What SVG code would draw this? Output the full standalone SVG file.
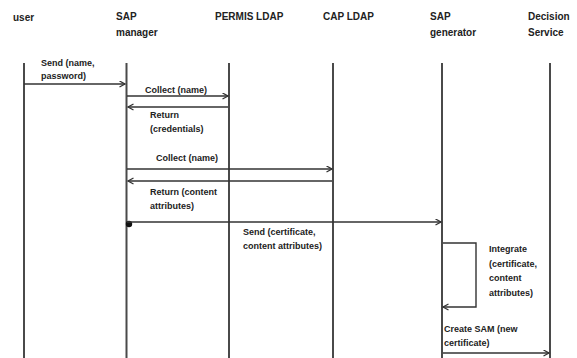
<svg xmlns="http://www.w3.org/2000/svg" width="577" height="358" viewBox="0 0 577 358">
<style>
text{font-family:"Liberation Sans",Arial,sans-serif;font-weight:bold;fill:#222}
.h{font-size:10px}
.m{font-size:9px}
.life{stroke:#4a4a4a;stroke-width:2;fill:none}
.msg{stroke:#333;stroke-width:1.4;fill:none;marker-end:url(#arr)}
</style>
<defs>
<marker id="arr" markerWidth="8" markerHeight="8" refX="6" refY="3.5" orient="auto" markerUnits="userSpaceOnUse">
<path d="M0.5,0.5 L6,3.5 L0.5,6.5" fill="none" stroke="#333" stroke-width="1.3"/>
</marker>
</defs>
<rect width="577" height="358" fill="#fff"/>
<g id="user"><text class="h" x="13" y="21">user</text><line class="life" x1="24" y1="63" x2="24" y2="358"/></g>
<g id="sap-manager"><text class="h" x="116" y="20">SAP</text><text class="h" x="116" y="36">manager</text><line class="life" x1="126.5" y1="63" x2="126.5" y2="358"/></g>
<g id="permis-ldap"><text class="h" x="215" y="20">PERMIS LDAP</text><line class="life" x1="229" y1="63" x2="229" y2="358"/></g>
<g id="cap-ldap"><text class="h" x="323" y="20">CAP LDAP</text><line class="life" x1="333" y1="63" x2="333" y2="358"/></g>
<g id="sap-generator"><text class="h" x="430" y="20">SAP</text><text class="h" x="430" y="36">generator</text><line class="life" x1="442" y1="63" x2="442" y2="358"/></g>
<g id="decision-service"><text class="h" x="528" y="20">Decision</text><text class="h" x="528" y="36">Service</text><line class="life" x1="550" y1="63" x2="550" y2="358"/></g>
<g id="connectors">
<line class="msg" x1="24" y1="84" x2="125" y2="84"/>
<line class="msg" x1="127" y1="96" x2="228" y2="96"/>
<line class="msg" x1="228" y1="107" x2="128" y2="107"/>
<line class="msg" x1="127" y1="169" x2="332" y2="169"/>
<line class="msg" x1="332" y1="181" x2="128" y2="181"/>
<circle cx="129" cy="224" r="3.2" fill="#111"/>
<line class="msg" x1="127" y1="222" x2="441" y2="222" stroke="#222" stroke-width="1.8"/>
<polyline class="msg" points="443,243 476,243 476,307 443,307"/>
<line class="msg" x1="443" y1="353" x2="549" y2="353"/>
</g>
<g id="labels">
<text class="m" x="41" y="66">Send (name,</text>
<text class="m" x="41" y="79">password)</text>
<text class="m" x="145" y="93">Collect (name)</text>
<text class="m" x="150" y="118">Return</text>
<text class="m" x="150" y="132">(credentials)</text>
<text class="m" x="156" y="161">Collect (name)</text>
<text class="m" x="150" y="195">Return (content</text>
<text class="m" x="150" y="209">attributes)</text>
<text class="m" x="243" y="235">Send (certificate,</text>
<text class="m" x="243" y="249">content attributes)</text>
<text class="m" x="489" y="252">Integrate</text>
<text class="m" x="489" y="267">(certificate,</text>
<text class="m" x="489" y="281">content</text>
<text class="m" x="489" y="296">attributes)</text>
<text class="m" x="444" y="332">Create SAM (new</text>
<text class="m" x="444" y="346">certificate)</text>
</g>
</svg>
